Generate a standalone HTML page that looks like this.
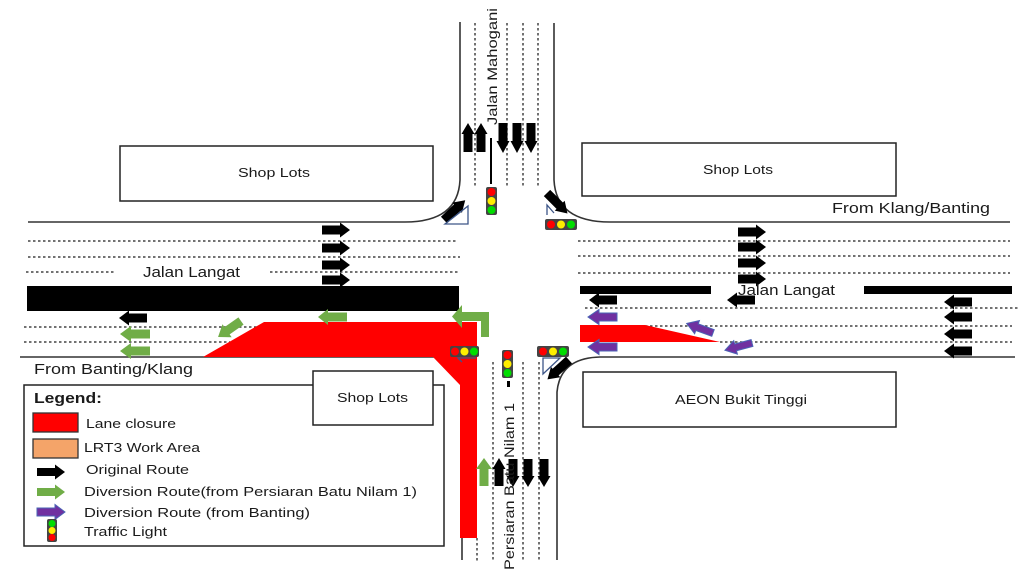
<!DOCTYPE html>
<html><head><meta charset="utf-8"><style>
html,body{margin:0;padding:0;background:#fff;}
svg{display:block;}
text{font-family:"Liberation Sans",sans-serif;fill:#1a1a1a;}
</style></head><body>
<svg width="1033" height="577" viewBox="0 0 1033 577" xmlns="http://www.w3.org/2000/svg">
<rect width="1033" height="577" fill="#fff"/>

<!-- Shop boxes -->
<rect x="120" y="146" width="313" height="55" fill="#fff" stroke="#222" stroke-width="1.5"/>
<rect x="582" y="143" width="314" height="53" fill="#fff" stroke="#222" stroke-width="1.5"/>
<rect x="583" y="372" width="313" height="55" fill="#fff" stroke="#222" stroke-width="1.5"/>

<!-- dotted lane lines -->
<g stroke="#444" stroke-width="1.5" stroke-dasharray="2.5 2.5" fill="none">
  <line x1="28" y1="241" x2="456" y2="241"/>
  <line x1="28" y1="257" x2="460" y2="257"/>
  <line x1="26" y1="272" x2="115" y2="272"/>
  <line x1="270" y1="272" x2="460" y2="272"/>
  <line x1="24" y1="327" x2="262" y2="327"/>
  <line x1="24" y1="342" x2="230" y2="342"/>
  <line x1="578" y1="241" x2="1010" y2="241"/>
  <line x1="578" y1="256" x2="1010" y2="256"/>
  <line x1="578" y1="273" x2="1010" y2="273"/>
  <line x1="585" y1="308" x2="1020" y2="308"/>
  <line x1="645" y1="326" x2="1012" y2="326"/>
  <line x1="720" y1="342" x2="1012" y2="342"/>
  <line x1="475" y1="23" x2="475" y2="188"/>
  <line x1="507" y1="23" x2="507" y2="188"/>
  <line x1="523" y1="23" x2="523" y2="188"/>
  <line x1="538" y1="23" x2="538" y2="188"/>
  <line x1="477" y1="538" x2="477" y2="562"/>
  <line x1="493" y1="362" x2="493" y2="562"/>
  <line x1="523" y1="362" x2="523" y2="562"/>
  <line x1="539" y1="362" x2="539" y2="562"/>
</g>

<!-- curbs -->
<g stroke="#333" stroke-width="1.6" fill="none">
  <path d="M28 222 L405 222 Q458 222 460 180 L460 22"/>
  <path d="M554 23 L554 180 Q556 222 610 222 L1010 222"/>
  <path d="M20 357 L435 357 Q462 360 462 390 L462 560"/>
  <path d="M557 560 L557 392 Q560 358 600 357 L1015 357"/>
</g>

<!-- black barriers -->
<rect x="27" y="286" width="432" height="25" fill="#000"/>
<rect x="580" y="286" width="131" height="8" fill="#000"/>
<rect x="864" y="286" width="148" height="8" fill="#000"/>

<!-- red lane closures -->
<polygon points="203,357 264,322 477,322 477,538 460,538 460,385 433,357" fill="#ff0000"/>
<polygon points="580,325 645,325 720,342 580,342" fill="#ff0000"/>

<!-- legend box -->
<rect x="24" y="385" width="420" height="161" fill="#fff" stroke="#222" stroke-width="1.5"/>
<rect x="313" y="371" width="120" height="54" fill="#fff" stroke="#222" stroke-width="1.5"/>

<!-- black arrows -->
<g fill="#000">
  <polygon transform="translate(322,230)" points="0,-4.5 18,-4.5 18,-7.5 28,0 18,7.5 18,4.5 0,4.5"/>
  <polygon transform="translate(322,248)" points="0,-4.5 18,-4.5 18,-7.5 28,0 18,7.5 18,4.5 0,4.5"/>
  <polygon transform="translate(322,265)" points="0,-4.5 18,-4.5 18,-7.5 28,0 18,7.5 18,4.5 0,4.5"/>
  <polygon transform="translate(322,280)" points="0,-4.5 18,-4.5 18,-7.5 28,0 18,7.5 18,4.5 0,4.5"/>
  <polygon transform="translate(738,232)" points="0,-4.5 18,-4.5 18,-7.5 28,0 18,7.5 18,4.5 0,4.5"/>
  <polygon transform="translate(738,247)" points="0,-4.5 18,-4.5 18,-7.5 28,0 18,7.5 18,4.5 0,4.5"/>
  <polygon transform="translate(738,263)" points="0,-4.5 18,-4.5 18,-7.5 28,0 18,7.5 18,4.5 0,4.5"/>
  <polygon transform="translate(738,279)" points="0,-4.5 18,-4.5 18,-7.5 28,0 18,7.5 18,4.5 0,4.5"/>
  <polygon transform="translate(972,302) rotate(180)" points="0,-4.5 18,-4.5 18,-7.5 28,0 18,7.5 18,4.5 0,4.5"/>
  <polygon transform="translate(972,317) rotate(180)" points="0,-4.5 18,-4.5 18,-7.5 28,0 18,7.5 18,4.5 0,4.5"/>
  <polygon transform="translate(972,334) rotate(180)" points="0,-4.5 18,-4.5 18,-7.5 28,0 18,7.5 18,4.5 0,4.5"/>
  <polygon transform="translate(972,351) rotate(180)" points="0,-4.5 18,-4.5 18,-7.5 28,0 18,7.5 18,4.5 0,4.5"/>
  <polygon transform="translate(617,300) rotate(180)" points="0,-4.5 18,-4.5 18,-7.5 28,0 18,7.5 18,4.5 0,4.5"/>
  <polygon transform="translate(755,300) rotate(180)" points="0,-4.5 18,-4.5 18,-7.5 28,0 18,7.5 18,4.5 0,4.5"/>
  <polygon transform="translate(147,318) rotate(180)" points="0,-4.5 18,-4.5 18,-7.5 28,0 18,7.5 18,4.5 0,4.5"/>
  <!-- top vertical arrows -->
  <polygon transform="translate(468,152) rotate(-90)" points="0,-4.5 18,-4.5 18,-6.5 29,0 18,6.5 18,4.5 0,4.5"/>
  <polygon transform="translate(481,152) rotate(-90)" points="0,-4.5 18,-4.5 18,-6.5 29,0 18,6.5 18,4.5 0,4.5"/>
  <polygon transform="translate(503,123) rotate(90)" points="0,-4.5 18,-4.5 18,-6.5 30,0 18,6.5 18,4.5 0,4.5"/>
  <polygon transform="translate(517,123) rotate(90)" points="0,-4.5 18,-4.5 18,-6.5 30,0 18,6.5 18,4.5 0,4.5"/>
  <polygon transform="translate(531,123) rotate(90)" points="0,-4.5 18,-4.5 18,-6.5 30,0 18,6.5 18,4.5 0,4.5"/>
  <!-- bottom vertical arrows -->
  <polygon transform="translate(499,486) rotate(-90)" points="0,-4.5 17,-4.5 17,-6.5 28,0 17,6.5 17,4.5 0,4.5"/>
  <polygon transform="translate(513,459) rotate(90)" points="0,-4.5 17,-4.5 17,-6.5 28,0 17,6.5 17,4.5 0,4.5"/>
  <polygon transform="translate(528,459) rotate(90)" points="0,-4.5 17,-4.5 17,-6.5 28,0 17,6.5 17,4.5 0,4.5"/>
  <polygon transform="translate(544,459) rotate(90)" points="0,-4.5 17,-4.5 17,-6.5 28,0 17,6.5 17,4.5 0,4.5"/>
  <!-- diagonal arrows -->
  <polygon transform="translate(444,220) rotate(-43)" points="0,-4.5 18,-4.5 18,-7 29,0 18,7 18,4.5 0,4.5"/>
  <polygon transform="translate(547,193) rotate(45)" points="0,-4.5 18,-4.5 18,-7 29,0 18,7 18,4.5 0,4.5"/>
  <polygon transform="translate(569,360) rotate(138)" points="0,-4.5 18,-4.5 18,-7 29,0 18,7 18,4.5 0,4.5"/>
  <!-- legend black arrow -->
  <polygon transform="translate(37,472)" points="0,-4 18,-4 18,-7.5 28,0 18,7.5 18,4 0,4"/>
</g>

<!-- traffic light pole top -->
<line x1="491" y1="138" x2="491" y2="184" stroke="#000" stroke-width="2"/>
<rect x="507" y="381" width="3" height="6" fill="#000"/>

<!-- blue triangles -->
<g stroke="#3d5688" stroke-width="1.3" fill="none">
  <polygon points="445,224 468,224 468,206"/>
  <polyline points="547,215 547,205 554,213"/>
  <polyline points="476,358 458,358 462,362"/>
  <polygon points="543,358 543,374 560,358"/>
</g>

<!-- green arrows -->
<g fill="#70ad47">
  <polygon transform="translate(150,334) rotate(180)" points="0,-4.5 19,-4.5 19,-8 30,0 19,8 19,4.5 0,4.5"/>
  <polygon transform="translate(150,351) rotate(180)" points="0,-4.5 19,-4.5 19,-8 30,0 19,8 19,4.5 0,4.5"/>
  <polygon transform="translate(347,317) rotate(180)" points="0,-4.5 19,-4.5 19,-8 29,0 19,8 19,4.5 0,4.5"/>
  <polygon transform="translate(241,321) rotate(145)" points="0,-4.5 17,-4.5 17,-8 28,0 17,8 17,4.5 0,4.5"/>
  <polygon transform="translate(484,486) rotate(-90)" points="0,-4.5 17,-4.5 17,-8 28,0 17,8 17,4.5 0,4.5"/>
  <polygon points="489,337 481,337 481,321 462,321 462,328 452,316.5 462,305 462,312 489,312"/>
  <polygon transform="translate(37,492)" points="0,-4 18,-4 18,-7.5 28,0 18,7.5 18,4 0,4"/>
</g>

<!-- purple arrows -->
<g fill="#7030a0" stroke="#4a63b5" stroke-width="1">
  <polygon transform="translate(617,317) rotate(180)" points="0,-4 18,-4 18,-7.5 29,0 18,7.5 18,4 0,4"/>
  <polygon transform="translate(617,347) rotate(180)" points="0,-4 18,-4 18,-7.5 29,0 18,7.5 18,4 0,4"/>
  <polygon transform="translate(713,333) rotate(-160)" points="0,-3.5 17,-3.5 17,-7 28,0 17,7 17,3.5 0,3.5"/>
  <polygon transform="translate(752,343) rotate(165)" points="0,-3.5 17,-3.5 17,-7 28,0 17,7 17,3.5 0,3.5"/>
  <polygon transform="translate(37,512)" points="0,-4 18,-4 18,-7.5 28,0 18,7.5 18,4 0,4"/>
</g>

<!-- traffic lights -->
<g>
  <rect x="486" y="187" width="11" height="28" rx="2" fill="#444"/>
  <circle cx="491.5" cy="192" r="4" fill="#ff0000"/><circle cx="491.5" cy="201" r="4" fill="#ffee00"/><circle cx="491.5" cy="210" r="4" fill="#00dd00"/>

  <rect x="545" y="219" width="32" height="11" rx="2" fill="#444"/>
  <circle cx="551" cy="224.5" r="4" fill="#ff0000"/><circle cx="561" cy="224.5" r="4" fill="#ffee00"/><circle cx="571" cy="224.5" r="4" fill="#00dd00"/>

  <rect x="450" y="346" width="29" height="11" rx="2" fill="#444"/>
  <circle cx="455" cy="351.5" r="4" fill="#ff0000"/><circle cx="464.5" cy="351.5" r="4" fill="#ffee00"/><circle cx="474" cy="351.5" r="4" fill="#00dd00"/>

  <rect x="502" y="350" width="11" height="28" rx="2" fill="#444"/>
  <circle cx="507.5" cy="355" r="4" fill="#ff0000"/><circle cx="507.5" cy="364" r="4" fill="#ffee00"/><circle cx="507.5" cy="373" r="4" fill="#00dd00"/>

  <rect x="537" y="346" width="32" height="11" rx="2" fill="#444"/>
  <circle cx="543" cy="351.5" r="4" fill="#ff0000"/><circle cx="553" cy="351.5" r="4" fill="#ffee00"/><circle cx="563" cy="351.5" r="4" fill="#00dd00"/>

  <rect x="47" y="519" width="10" height="23" rx="2" fill="#444"/>
  <circle cx="52" cy="523.5" r="3.5" fill="#00dd00"/><circle cx="52" cy="530.5" r="3.5" fill="#ffee00"/><circle cx="52" cy="537.5" r="3.5" fill="#ff0000"/>
</g>

<!-- legend swatches -->
<rect x="33" y="413" width="45" height="19" fill="#ff0000" stroke="#333" stroke-width="1.3"/>
<rect x="33" y="439" width="45" height="19" fill="#f4a469" stroke="#333" stroke-width="1.3"/>

<!-- texts -->
<text x="238" y="177" font-size="13" textLength="72" lengthAdjust="spacingAndGlyphs">Shop Lots</text>
<text x="703" y="174" font-size="13" textLength="70" lengthAdjust="spacingAndGlyphs">Shop Lots</text>
<text x="337" y="402" font-size="13" textLength="71" lengthAdjust="spacingAndGlyphs">Shop Lots</text>
<text x="675" y="404" font-size="13" textLength="132" lengthAdjust="spacingAndGlyphs">AEON Bukit Tinggi</text>
<text x="143" y="277" font-size="15" textLength="97" lengthAdjust="spacingAndGlyphs">Jalan Langat</text>
<text x="738" y="295" font-size="15" textLength="97" lengthAdjust="spacingAndGlyphs">Jalan Langat</text>
<text x="832" y="213" font-size="15" textLength="158" lengthAdjust="spacingAndGlyphs">From Klang/Banting</text>
<text x="34" y="374" font-size="15" textLength="159" lengthAdjust="spacingAndGlyphs">From Banting/Klang</text>
<text transform="translate(497,125) rotate(-90)" font-size="14" textLength="117" lengthAdjust="spacingAndGlyphs">Jalan Mahogani</text>
<text transform="translate(514,570) rotate(-90)" font-size="14" textLength="167" lengthAdjust="spacingAndGlyphs">Persiaran Batu Nilam 1</text>

<text x="34" y="403" font-size="15" font-weight="bold" textLength="68" lengthAdjust="spacingAndGlyphs">Legend:</text>
<text x="86" y="428" font-size="13" textLength="90" lengthAdjust="spacingAndGlyphs">Lane closure</text>
<text x="84" y="452" font-size="13" textLength="116" lengthAdjust="spacingAndGlyphs">LRT3 Work Area</text>
<text x="86" y="474" font-size="13" textLength="103" lengthAdjust="spacingAndGlyphs">Original Route</text>
<text x="84" y="496" font-size="13" textLength="333" lengthAdjust="spacingAndGlyphs">Diversion Route(from Persiaran Batu Nilam 1)</text>
<text x="84" y="517" font-size="13" textLength="226" lengthAdjust="spacingAndGlyphs">Diversion Route (from Banting)</text>
<text x="84" y="536" font-size="13" textLength="83" lengthAdjust="spacingAndGlyphs">Traffic Light</text>
</svg>
</body></html>
